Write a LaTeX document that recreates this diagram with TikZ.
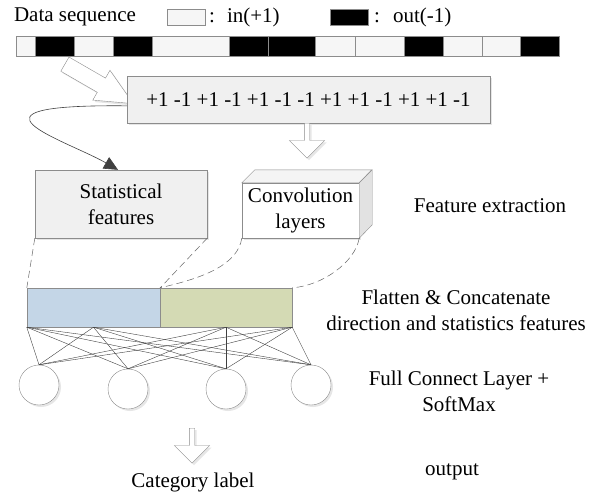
\documentclass[tikz,border=0pt]{standalone}
\usepackage{fontspec}
\setmainfont{Liberation Serif}
\usetikzlibrary{arrows.meta}
\usetikzlibrary{shapes.arrows}
\usetikzlibrary{shadows}

\definecolor{edgegray}{HTML}{8C8C8C}
\definecolor{linegray}{HTML}{404040}
\definecolor{boxfill}{HTML}{F0F0F0}
\definecolor{segwhite}{HTML}{F6F6F6}
\definecolor{flatblue}{HTML}{C4D6E7}
\definecolor{flatgreen}{HTML}{D4DAB4}
\definecolor{cubetop}{HTML}{F4F4F4}
\definecolor{cuberight}{HTML}{E2E2E2}

\tikzset{
  softshadow/.style={drop shadow={shadow xshift=2pt, shadow yshift=-2pt, opacity=0.2, fill=gray}},
  box/.style={draw=edgegray, fill=boxfill, inner sep=0pt, align=center, softshadow},
  inseg/.style={draw=edgegray, fill=segwhite, inner sep=0pt, minimum height=20pt},
  outseg/.style={draw=edgegray, fill=black, inner sep=0pt, minimum height=20pt},
  hollowarr/.style={single arrow, draw=edgegray, fill=white, inner sep=2.5pt, minimum height=35pt,
    single arrow head extend=15pt, shape border rotate=270, softshadow},
  blockarr/.style={single arrow, draw=edgegray, fill=white, inner sep=8pt, minimum height=79pt,
    single arrow head extend=9pt, single arrow tip angle=50, softshadow},
  neuron/.style={circle, draw=edgegray, fill=white, minimum size=40pt, inner sep=0pt, softshadow},
  link/.style={draw=linegray, line width=0.4pt},
  tie/.style={draw=gray!80!black, dash pattern=on 7pt off 4pt, line width=0.5pt},
  curarr/.style={draw=linegray, line width=0.6pt, -{Triangle[length=14pt, width=13pt]}}
}

\begin{document}
\begin{tikzpicture}[x=1pt, y=-1pt, font=\fontsize{21}{26}\selectfont]
  \useasboundingbox (0,0) rectangle (607,492);

  % legend
  \node (datalbl) at (75,17) {Data sequence};
  \node[inseg, minimum width=38pt, minimum height=16pt] (legin) at (186,17) {};
  \node[anchor=west, inner sep=0pt] (inlbl) at (209,17) {:\hspace{12pt}in(+1)};
  \node[outseg, minimum width=38pt, minimum height=16pt] (legout) at (349,17) {};
  \node[anchor=west, inner sep=0pt] (outlbl) at (374,17) {:\hspace{13pt}out(-1)};

  \node[blockarr, rotate=-30] (feed) at (91.5,79.5) {};

  % data strip
  \node[inseg, minimum width=19pt] (s1) at (25.5,46) {};
  \node[outseg, minimum width=39pt] (s2) at (54.5,46) {};
  \node[inseg, minimum width=39pt] (s3) at (93.5,46) {};
  \node[outseg, minimum width=39pt] (s4) at (132.5,46) {};
  \node[inseg, minimum width=77pt] (s5) at (190.5,46) {};
  \node[outseg, minimum width=39pt] (s6) at (248.5,46) {};
  \node[outseg, minimum width=47pt] (s7) at (291.5,46) {};
  \node[inseg, minimum width=40pt] (s8) at (335,46) {};
  \node[inseg, minimum width=49pt] (s9) at (379.5,46) {};
  \node[outseg, minimum width=39pt] (s10) at (423.5,46) {};
  \node[inseg, minimum width=39pt] (s11) at (462.5,46) {};
  \node[inseg, minimum width=38pt] (s12) at (501,46) {};
  \node[outseg, minimum width=39pt] (s13) at (539.5,46) {};

  \node[box, minimum width=363pt, minimum height=47pt] (seq) at (308.5,99.5)
    {+1 -1 +1 -1 +1 -1 -1 +1 +1 -1 +1 +1 -1};

  % feature extraction
  \node[box, minimum width=172pt, minimum height=68pt] (stat) at (121,204) {Statistical\\features};
  \node[box, fill=white, minimum width=117pt, minimum height=55pt] (conv) at (300.5,210.5) {Convolution\\layers};
  \draw[draw=edgegray, fill=cubetop] (conv.north west) -- ++(13,-13) -- ++(117,0) -- (conv.north east) -- cycle;
  \draw[draw=edgegray, fill=cuberight] (conv.north east) -- ++(13,-13) -- ++(0,55) -- (conv.south east) -- cycle;
  \node (featlbl) at (490,206) {Feature extraction};

  \draw[curarr] (seq.182) .. controls (-55,104) and (66,140) .. (stat.95);
  \node[hollowarr, anchor=tail] (down1) at (307,123) {};

  % flatten
  \node[draw=edgegray, fill=flatblue, inner sep=0pt, minimum width=133pt, minimum height=39pt] (flatl) at (93.5,307.5) {};
  \node[draw=edgegray, fill=flatgreen, inner sep=0pt, minimum width=132pt, minimum height=39pt] (flatr) at (226,307.5) {};
  \node[align=center] (flatlbl) at (456,310) {Flatten \& Concatenate\\direction and statistics features};

  \draw[tie] (stat.south west) -- (flatl.north west);
  \draw[tie] (stat.south east) -- (flatl.north east);
  \draw[tie] (conv.south west) .. controls +(-4,26) and +(45,-10) .. (flatr.north west);
  \draw[tie] (conv.south east) .. controls +(-4,24) and +(30,-2) .. (flatr.north east);

  % full connect layer
  \node[neuron] (c1) at (39,385) {};
  \node[neuron] (c2) at (128,389) {};
  \node[neuron] (c3) at (226,389) {};
  \node[neuron] (c4) at (311,385) {};
  \node[align=center] (fclbl) at (459,391) {Full Connect Layer +\\SoftMax};

  \draw[link] (flatl.south west) -- (c1.north);
  \draw[link] (flatl.south west) -- (c2.north);
  \draw[link] (flatl.south west) -- (c3.north);
  \draw[link] (flatl.south west) -- (c4.north);
  \draw[link] (flatl.south) -- (c1.north);
  \draw[link] (flatl.south) -- (c2.north);
  \draw[link] (flatl.south) -- (c3.north);
  \draw[link] (flatl.south) -- (c4.north);
  \draw[link] (flatr.south) -- (c1.north);
  \draw[link] (flatr.south) -- (c2.north);
  \draw[link] (flatr.south) -- (c3.north);
  \draw[link] (flatr.south) -- (c4.north);
  \draw[link] (flatr.south east) -- (c1.north);
  \draw[link] (flatr.south east) -- (c2.north);
  \draw[link] (flatr.south east) -- (c3.north);
  \draw[link] (flatr.south east) -- (c4.north);

  % output
  \node[hollowarr, anchor=tail] (down2) at (192,428) {};
  \node (catlbl) at (193,482) {Category label};
  \node (outputlbl) at (452,472) {output};
\end{tikzpicture}
\end{document}
